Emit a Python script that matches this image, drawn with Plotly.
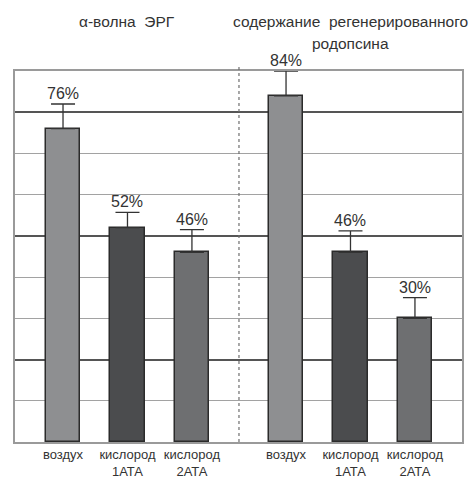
import plotly.graph_objects as go

# --- data -------------------------------------------------------------
group_titles = [["α-волна  ЭРГ"], ["содержание  регенерированного", "родопсина"]]
conditions = ["воздух", "кислород<br>1АТА", "кислород<br>2АТА"]
erg_values = [76, 52, 46]
erg_errors = [6, 3.7, 5.5]
rhodopsin_values = [84, 46, 30]
rhodopsin_errors = [6, 5.2, 5]
bar_colors = ["#8e8f91", "#4b4c4e", "#6e6f71"]

# --- layout helpers ---------------------------------------------------
W, H = 474, 478
M = dict(l=15, r=12, t=71, b=36)
GROUP_GAP = 0.46          # extra space between the two groups, in bar slots
BAR_W = 0.53
FONT = "Liberation Sans, Arial"

def px_to_paper_y(py):
    plot_h = H - M["t"] - M["b"]
    return (H - M["b"] - py) / plot_h

n = len(conditions)
x_erg = [i for i in range(n)]
x_rho = [i + n + GROUP_GAP for i in range(n)]

fig = go.Figure()

for xs, vals, errs in [(x_erg, erg_values, erg_errors),
                       (x_rho, rhodopsin_values, rhodopsin_errors)]:
    fig.add_trace(go.Bar(
        x=xs, y=vals, width=BAR_W,
        marker=dict(color=bar_colors, line=dict(color="#2b2b2b", width=1.5)),
        error_y=dict(type="data", symmetric=False, array=errs,
                     arrayminus=[0] * len(errs),
                     color="#333333", thickness=1.3, width=12),
        showlegend=False, hoverinfo="skip",
    ))
    for x, v, e in zip(xs, vals, errs):
        fig.add_annotation(x=x, y=v + e, xref="x", yref="y",
                           text=f"{v}%", showarrow=False,
                           yanchor="bottom", yshift=0,
                           font=dict(size=16, color="#333333", family=FONT))

# group titles centred over each group
centers = [sum(x_erg) / n, sum(x_rho) / n]
line_y = [21, 44]
for c, lines in zip(centers, group_titles):
    for ly, t in zip(line_y, lines):
        fig.add_annotation(x=c, y=px_to_paper_y(ly), xref="x", yref="paper",
                           text=t, showarrow=False, yanchor="middle",
                           font=dict(size=15.5, color="#333333", family=FONT))

# dashed divider between the groups
div_x = (x_erg[-1] + x_rho[0]) / 2
fig.add_shape(type="line", xref="x", yref="paper",
              x0=div_x, x1=div_x, y0=0, y1=px_to_paper_y(65),
              line=dict(color="#6e6e6e", width=1.2, dash="dot"))

fig.update_layout(
    width=W, height=H, margin=M,
    paper_bgcolor="white", plot_bgcolor="white",
    bargap=0,
    xaxis=dict(
        range=[-0.745, x_rho[-1] + 0.73],
        tickvals=x_erg + x_rho,
        ticktext=conditions * 2,
        tickfont=dict(size=13, color="#333333", family=FONT),
        showgrid=False, zeroline=False,
        showline=True, mirror=True, linecolor="#9a9a9a", linewidth=1.5,
        ticks="", ticklen=0,
        automargin=False,
    ),
    yaxis=dict(
        range=[0, 90],
        tick0=20, dtick=30,
        showticklabels=False, ticks="",
        showgrid=True, gridcolor="#555555", gridwidth=1.5,
        minor=dict(dtick=10, tick0=0, showgrid=True,
                   gridcolor="#a2a2a2", gridwidth=1.2),
        zeroline=False, automargin=False,
        showline=True, mirror=True, linecolor="#9a9a9a", linewidth=1.5,
    ),
)

fig.write_html("out.html")
